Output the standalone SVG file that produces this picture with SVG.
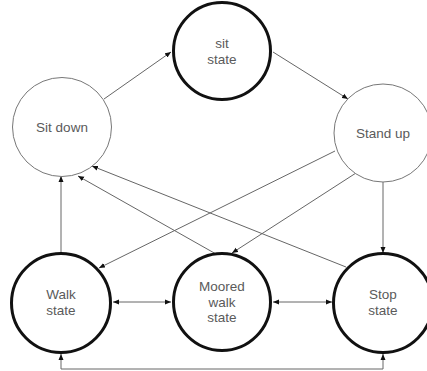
<svg xmlns="http://www.w3.org/2000/svg" width="427" height="371" viewBox="0 0 427 371">
<style>
.thick{fill:#fff;stroke:#111;stroke-width:3}
.thin{fill:#fff;stroke:#777;stroke-width:1}
.lbl{font-family:"Liberation Sans",Arial,sans-serif;font-size:13.5px;fill:#5a5a5a;text-anchor:middle;dominant-baseline:central}
.edge{fill:none;stroke:#666;stroke-width:1}
</style>
<defs>
<marker id="arr" viewBox="0 0 6 6" refX="6" refY="3" markerWidth="6" markerHeight="6" markerUnits="userSpaceOnUse" orient="auto-start-reverse">
<path d="M0,0.5 L6,3 L0,5.5 Z" fill="#111"/>
</marker>
</defs>
<rect width="427" height="371" fill="#fff"/>
<g id="connectors">
<line class="edge" x1="104" y1="99" x2="171" y2="52" marker-end="url(#arr)"/>
<line class="edge" x1="273" y1="52" x2="348" y2="99" marker-end="url(#arr)"/>
<line class="edge" x1="335" y1="151" x2="99" y2="268" marker-end="url(#arr)"/>
<line class="edge" x1="356" y1="173" x2="232" y2="253" marker-end="url(#arr)"/>
<line class="edge" x1="383" y1="182" x2="383" y2="253" marker-end="url(#arr)"/>
<line class="edge" x1="216" y1="254" x2="78" y2="176" marker-end="url(#arr)"/>
<line class="edge" x1="346" y1="267" x2="92" y2="166" marker-end="url(#arr)"/>
<line class="edge" x1="61" y1="253" x2="61" y2="176" marker-end="url(#arr)"/>
<line class="edge" x1="113" y1="302" x2="171" y2="302" marker-start="url(#arr)" marker-end="url(#arr)"/>
<line class="edge" x1="273" y1="302" x2="332" y2="302" marker-start="url(#arr)" marker-end="url(#arr)"/>
<path class="edge" d="M61,354 V369 H383 V354" marker-start="url(#arr)" marker-end="url(#arr)"/>
</g>
<g id="sit-state">
<circle class="thick" cx="222" cy="51" r="48.5"/>
<text class="lbl" x="222" y="43">sit</text>
<text class="lbl" x="222" y="59">state</text>
</g>
<g id="sit-down">
<circle class="thin" cx="62" cy="127" r="49.5"/>
<text class="lbl" x="62" y="127">Sit down</text>
</g>
<g id="stand-up">
<circle class="thin" cx="383" cy="133" r="49"/>
<text class="lbl" x="383" y="133">Stand up</text>
</g>
<g id="walk-state">
<circle class="thick" cx="61" cy="303" r="49.5"/>
<text class="lbl" x="61" y="294">Walk</text>
<text class="lbl" x="61" y="310">state</text>
</g>
<g id="moored-walk-state">
<circle class="thick" cx="222" cy="302" r="48.5"/>
<text class="lbl" x="222" y="286.5">Moored</text>
<text class="lbl" x="222" y="302">walk</text>
<text class="lbl" x="222" y="317.5">state</text>
</g>
<g id="stop-state">
<circle class="thick" cx="383" cy="303" r="49.5"/>
<text class="lbl" x="383" y="294">Stop</text>
<text class="lbl" x="383" y="310">state</text>
</g>
</svg>
